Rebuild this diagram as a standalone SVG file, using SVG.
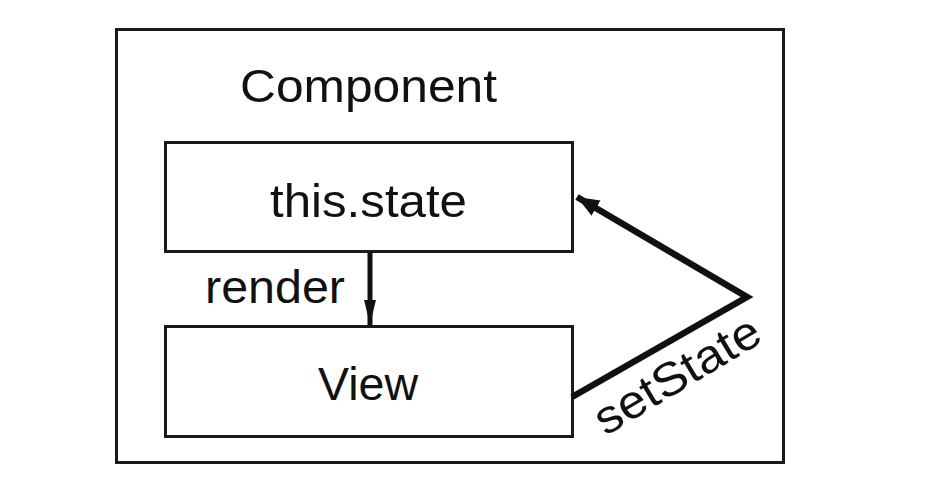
<svg xmlns="http://www.w3.org/2000/svg" width="946" height="500" viewBox="0 0 946 500">
<style>
.box{fill:#fff;stroke:#1a1a1a;stroke-width:3}
.t{font-family:"Liberation Sans",Arial,sans-serif;fill:#111;font-size:47px}
.c{stroke:#111;fill:none;stroke-linejoin:miter}
</style>
<defs>
<marker id="ah" viewBox="0 0 16 10" refX="16" refY="5" markerWidth="5" markerHeight="3.2" orient="auto" markerUnits="strokeWidth">
<path d="M0,1.2 L16,5 L0,8.8 z" fill="#111"/>
</marker>
<marker id="ah2" viewBox="0 0 10 10" refX="10" refY="5" markerWidth="3.4" markerHeight="3.4" orient="auto" markerUnits="strokeWidth">
<path d="M0,1 L10,5 L0,9 z" fill="#111"/>
</marker>
</defs>
<rect width="946" height="500" fill="#fff"/>
<g id="component">
<rect class="box" x="116.5" y="29.5" width="667" height="433"/>
<text class="t" x="240" y="102" textLength="257" lengthAdjust="spacingAndGlyphs">Component</text>
</g>
<g id="state">
<rect class="box" x="165.5" y="142.5" width="407" height="109"/>
<text class="t" x="270" y="217" textLength="197" lengthAdjust="spacingAndGlyphs">this.state</text>
</g>
<g id="view">
<rect class="box" x="165.5" y="326.5" width="407" height="110"/>
<text class="t" x="318" y="400" textLength="100" lengthAdjust="spacingAndGlyphs">View</text>
</g>
<g id="connectors">
<line class="c" x1="370" y1="252" x2="370" y2="325" stroke-width="5" marker-end="url(#ah)"/>
<polyline class="c" points="572,397 747,297 577,197" stroke-width="6.5" marker-end="url(#ah2)"/>
<text class="t" x="205" y="303" textLength="140" lengthAdjust="spacingAndGlyphs">render</text>
<text class="t" x="-94" y="0" textLength="186" lengthAdjust="spacingAndGlyphs" transform="translate(686,388) rotate(-31)">setState</text>
</g>
</svg>
